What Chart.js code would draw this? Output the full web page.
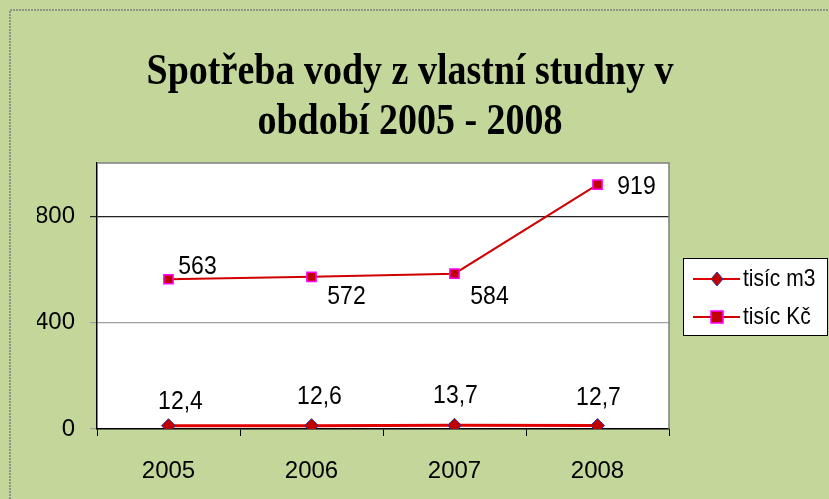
<!DOCTYPE html>
<html>
<head>
<meta charset="utf-8">
<script src="https://cdn.jsdelivr.net/npm/chart.js@4"></script>
<style>
  html, body { margin: 0; padding: 0; background: #c4d79b; }
  #wrap { width: 829px; height: 499px; }
</style>
</head>
<body>
<div id="wrap"><canvas id="waterChart" width="829" height="499"></canvas></div>
<script>
const years = ["2005", "2006", "2007", "2008"];
const volumeM3 = [12.4, 12.6, 13.7, 12.7]; // tisíc m3
const costKc = [563, 572, 584, 919]; // tisíc Kč
const yTicks = [0, 400, 800];
const titleLines = ["Spotřeba vody z vlastní studny v", "období 2005 - 2008"];

// where each value label sits relative to its point (dx, dy)
const labelOffsets = [
  [[12, -24], [8, -29], [1, -29], [1, -28]],
  [[29, -12], [35, 20], [35, 23], [39, 2]],
];

const fmt = (v) => String(v).replace(".", ",");

// text drawn slightly taller than wide, like the source picture
function tallText(ctx, text, x, y, sy) {
  ctx.save();
  ctx.translate(x, y);
  ctx.scale(1, sy);
  ctx.fillText(text, 0, 0);
  ctx.restore();
}

const decor = {
  id: "decor",
  beforeDraw(chart) {
    const { ctx, chartArea: a } = chart;
    ctx.save();
    ctx.fillStyle = "#c4d79b";
    ctx.fillRect(0, 0, chart.width, chart.height);
    ctx.strokeStyle = "#7f7f7f";
    ctx.lineWidth = 1.5;
    ctx.setLineDash([2, 1]);
    ctx.strokeRect(10, 10, 840, 510);
    ctx.setLineDash([]);
    ctx.fillStyle = "#ffffff";
    ctx.fillRect(a.left, a.top, a.right - a.left, a.bottom - a.top);
    ctx.restore();
  },
  afterDatasetsDraw(chart) {
    const { ctx, chartArea: a } = chart;
    ctx.save();
    // plot frame
    ctx.strokeStyle = "#808080";
    ctx.lineWidth = 1.5;
    ctx.beginPath();
    ctx.moveTo(a.left, a.top);
    ctx.lineTo(a.right, a.top);
    ctx.lineTo(a.right, a.bottom);
    ctx.stroke();

    // title
    ctx.fillStyle = "#000";
    ctx.textAlign = "center";
    ctx.textBaseline = "alphabetic";
    ctx.font = "bold 38px 'Liberation Serif', 'DejaVu Serif', serif";
    tallText(ctx, titleLines[0], 410, 84, 1.17);
    tallText(ctx, titleLines[1], 410, 134, 1.17);

    // value labels
    ctx.font = "23px 'Liberation Sans', Arial, sans-serif";
    ctx.textBaseline = "middle";
    chart.data.datasets.forEach((ds, di) => {
      const meta = chart.getDatasetMeta(di);
      meta.data.forEach((pt, i) => {
        const [dx, dy] = labelOffsets[di][i];
        tallText(ctx, fmt(ds.data[i]), pt.x + dx, pt.y + dy, 1.12);
      });
    });

    // legend
    const bx = 683, by = 258, bw = 144, bh = 77;
    ctx.fillStyle = "#fff";
    ctx.fillRect(bx, by, bw, bh);
    ctx.strokeStyle = "#000";
    ctx.lineWidth = 1;
    ctx.strokeRect(bx + 0.5, by + 0.5, bw, bh);
    ctx.font = "21px 'Liberation Sans', Arial, sans-serif";
    ctx.textAlign = "left";
    ctx.textBaseline = "middle";
    [279, 317].forEach((y, di) => {
      const ds = chart.data.datasets[di];
      ctx.strokeStyle = ds.borderColor;
      ctx.lineWidth = 2;
      ctx.beginPath();
      ctx.moveTo(693, y);
      ctx.lineTo(740, y);
      ctx.stroke();
      ctx.fillStyle = ds.pointBackgroundColor;
      ctx.strokeStyle = ds.pointBorderColor;
      ctx.lineWidth = ds.pointBorderWidth;
      ctx.beginPath();
      if (ds.pointStyle === "rectRot") {
        ctx.moveTo(717, y - 7);
        ctx.lineTo(723, y);
        ctx.lineTo(717, y + 7);
        ctx.lineTo(711, y);
        ctx.closePath();
      } else {
        ctx.rect(711, y - 6, 12, 12);
      }
      ctx.fill();
      ctx.stroke();
      ctx.fillStyle = "#000";
      tallText(ctx, ds.label, 743, y + 1, 1.1);
    });
    ctx.restore();
  },
};

const ctx = document.getElementById("waterChart").getContext("2d");
const waterChart = new Chart(ctx, {
  type: "line",
  data: {
    labels: years,
    datasets: [
      {
        label: "tisíc m3",
        data: volumeM3,
        borderColor: "#e00000",
        borderWidth: 3,
        pointStyle: "rectRot",
        pointRadius: 7,
        pointBackgroundColor: "#c00000",
        pointBorderColor: "#333399",
        pointBorderWidth: 1,
        tension: 0,
      },
      {
        label: "tisíc Kč",
        data: costKc,
        borderColor: "#d00000",
        borderWidth: 2,
        pointStyle: "rect",
        pointRadius: 6.5,
        pointBackgroundColor: "#c00000",
        pointBorderColor: "#ff00ff",
        pointBorderWidth: 1.5,
        tension: 0,
      },
    ],
  },
  options: {
    responsive: false,
    animation: false,
    layout: { padding: { left: 37, right: 160, top: 163, bottom: 10 } },
    plugins: {
      legend: { display: false },
      title: { display: false },
      tooltip: { enabled: false },
    },
    scales: {
      x: {
        offset: true,
        grid: { offset: true, drawOnChartArea: false, tickLength: 7, color: "#000" },
        border: { color: "#000", width: 1.5 },
        ticks: { color: "#000", padding: 21, font: { family: "'Liberation Sans', Arial, sans-serif", size: 24 } },
        afterFit: (s) => { s.height = 60; },
      },
      y: {
        min: 0,
        max: 1000,
        ticks: {
          stepSize: 400,
          color: "#000",
          padding: 15,
          font: { family: "'Liberation Sans', Arial, sans-serif", size: 24 },
        },
        afterBuildTicks: (s) => { s.ticks = yTicks.map((v) => ({ value: v })); },
        grid: {
          tickLength: 7,
          color: (c) => (c.tick && c.tick.value === 800 ? "#222" : "#a0a0a0"),
          lineWidth: 1.2,
        },
        border: { color: "#000", width: 1.5 },
        afterFit: (s) => { s.width = 60; },
      },
    },
  },
  plugins: [decor],
});
</script>
</body>
</html>
